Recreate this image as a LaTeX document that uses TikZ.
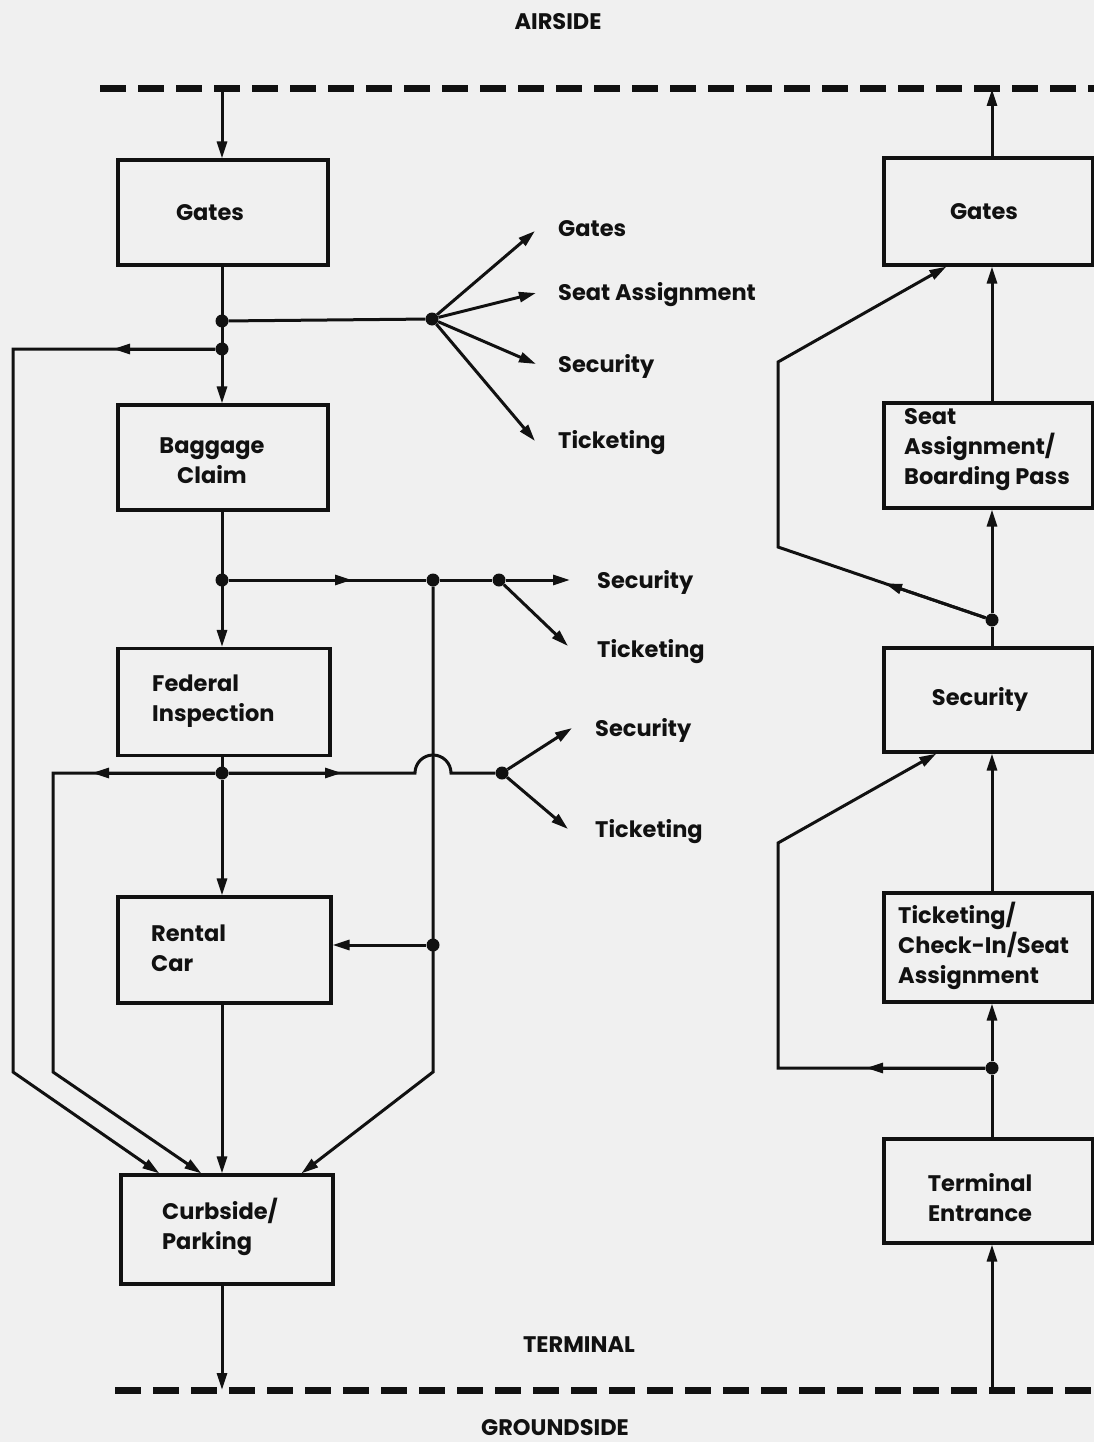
\documentclass[tikz,border=0pt]{standalone}
\usepackage{fontspec}
\setmainfont{Poppins}
\usetikzlibrary{arrows.meta,calc}
\definecolor{bgc}{HTML}{F0F0F0}
\definecolor{ink}{HTML}{111111}
\begin{document}
\begin{tikzpicture}[x=1pt,y=-1pt,
  box/.style={draw=ink, line width=3.2pt, inner sep=0pt},
  ln/.style={draw=ink, line width=3pt, line join=miter},
  arr/.style={ln, -{Triangle[length=17pt,width=10pt]}},
  dot/.style={circle, fill=ink, inner sep=0pt, minimum size=13pt},
  bordline/.style={draw=ink, line width=7pt, dash pattern=on 26pt off 12pt},
  txt/.style={inner sep=0pt, text=ink, font=\fontsize{22.5}{30}\selectfont\bfseries},
]
\fill[bgc] (0,0) rectangle (1094,1442);
\useasboundingbox (0,0) rectangle (1094,1442);

% boundaries
\coordinate (topL) at (100,89);
\coordinate (topR) at (1110,89);
\coordinate (botL) at (115,1390);
\coordinate (botR) at (1110,1390);
\draw[bordline] (topL) -- (topR);
\draw[bordline] (botL) -- (botR);
\node[txt] (airside) at (558,22) {AIRSIDE};
\node[txt] (terminal) at (579,1345) {TERMINAL};
\node[txt] (groundside) at (555,1428) {GROUNDSIDE};

\coordinate (vx) at (222,0);
\coordinate (rx) at (992,0);

% left boxes
\node[box, minimum width=210, minimum height=105] (lgates) at (223,212.5) {};
\node[box, minimum width=210, minimum height=105] (bag) at (223,457.5) {};
\node[box, minimum width=212, minimum height=107] (fed) at (224,702) {};
\node[box, minimum width=213, minimum height=106] (rent) at (224.5,950) {};
\node[box, minimum width=212, minimum height=109] (curb) at (227,1229.5) {};

\node[txt] (tlgates) at (210,213) {Gates};
\node[txt, align=center] (tbag) at (212,461) {Baggage\\Claim};
\node[txt, anchor=west, align=left] (tfed) at (152,701) {Federal\\Inspection};
\node[txt, anchor=west, align=left] (trent) at (151,948) {Rental\\Car};
\node[txt, anchor=west, align=left] (tcurb) at (162,1227) {Curbside/\\Parking};

% right boxes
\node[box, minimum width=209, minimum height=107] (rgates) at (988.5,211.5) {};
\node[box, minimum width=209, minimum height=105] (seat) at (988.5,455.5) {};
\node[box, minimum width=209, minimum height=104] (sec) at (988.5,700) {};
\node[box, minimum width=209, minimum height=109] (tick) at (988.5,947.5) {};
\node[box, minimum width=209, minimum height=104] (term) at (988.5,1191) {};

\node[txt] (trgates) at (984,212) {Gates};
\node[txt, anchor=west, align=left] (tseat) at (904,450) {Seat\\Assignment/\\Boarding Pass};
\node[txt] (tsec) at (980,699) {Security};
\node[txt, anchor=west, align=left] (ttick) at (898,946) {Ticketing/\\Check-In/Seat\\Assignment};
\node[txt, align=center] (tterm) at (980,1198) {Terminal\\Entrance};

% ---- left column connectors
\draw[arr] (topL -| vx) -- (lgates.north -| vx);
\draw[arr] (lgates.south -| vx) -- (bag.north -| vx);
\node[dot] (j1) at (222,321) {};
\node[dot] (j2) at (222,349) {};
\node[dot] (f1) at (432,319) {};
\draw[ln] (j1) -- (f1);
\coordinate (g1) at (535,231);
\coordinate (g2) at (536,293);
\coordinate (g3) at (536,364);
\coordinate (g4) at (535,441);
\draw[arr] (f1) -- (g1);
\draw[arr] (f1) -- (g2);
\draw[arr] (f1) -- (g3);
\draw[arr] (f1) -- (g4);
\node[txt, anchor=west] (lg1) at (558,229) {Gates};
\node[txt, anchor=west] (lg2) at (558,295) {Seat Assignment};
\node[txt, anchor=west] (lg3) at (558,366) {Security};
\node[txt, anchor=west] (lg4) at (558,443) {Ticketing};

% outer left loop
\coordinate (c1) at (13,349);
\coordinate (c2) at (13,1072);
\coordinate (curbA) at ($(curb.north west)+(40,0)$);
\draw[arr] (j2) -- (c1) -- (c2) -- (curbA);
\coordinate (m1) at (113,349);
\draw[arr] (j2) -- (m1);

% 580 line
\draw[arr] (bag.south -| vx) -- (fed.north -| vx);
\node[dot] (j3) at (222,580) {};
\node[dot] (f2) at (433,580) {};
\node[dot] (f3) at (499,580) {};
\draw[ln] (j3) -- (f2) -- (f3);
\coordinate (m2) at (352,580);
\draw[arr] (j3) -- (m2);
\coordinate (s1) at (570,580);
\coordinate (t1) at (568,646);
\draw[arr] (f3) -- (s1);
\draw[arr] (f3) -- (t1);
\node[txt, anchor=west] (ls1) at (597,582) {Security};
\node[txt, anchor=west] (lt1) at (597,652) {Ticketing};

% 773 line
\draw[ln] (fed.south -| vx) -- (222,773);
\node[dot] (j4) at (222,773) {};
\coordinate (c3) at (53,773);
\coordinate (c4) at (53,1072);
\coordinate (curbB) at ($(curb.north west)+(82,0)$);
\draw[arr] (j4) -- (c3) -- (c4) -- (curbB);
\coordinate (m3) at (92,773);
\draw[arr] (j4) -- (m3);
\coordinate (h1) at (415,773);
\node[dot] (f4) at (502,773) {};
\draw[ln] (j4) -- (h1) arc[start angle=180, end angle=360, radius=18] -- (f4);
\coordinate (m4) at (342,773);
\draw[arr] (j4) -- (m4);
\coordinate (s2) at (572,728);
\coordinate (t2) at (568,829);
\draw[arr] (f4) -- (s2);
\draw[arr] (f4) -- (t2);
\node[txt, anchor=west] (ls2) at (595,730) {Security};
\node[txt, anchor=west] (lt2) at (595,832) {Ticketing};
\draw[arr] (j4) -- (rent.north -| vx);

% vertical at 433
\node[dot] (f5) at (433,945) {};
\coordinate (c5) at (433,1072);
\coordinate (curbC) at ($(curb.north west)+(182,0)$);
\draw[arr] (f2) -- (c5) -- (curbC);
\draw[arr] (f5) -- (rent.east |- f5);

\draw[arr] (rent.south -| vx) -- (curb.north -| vx);
\draw[arr] (curb.south -| vx) -- (botL -| vx);

% ---- right column connectors
\draw[arr] (rgates.north -| rx) -- (topR -| rx);
\draw[arr] (seat.north -| rx) -- (rgates.south -| rx);
\node[dot] (r1) at (992,620) {};
\draw[arr] (r1) -- (seat.south -| rx);
\coordinate (c6) at (778,547);
\coordinate (c7) at (778,362);
\coordinate (ga) at ($(rgates.south west)+(64,0)$);
\draw[arr] (r1) -- (c6) -- (c7) -- (ga);
\coordinate (m5) at ($(r1)!0.5!(c6)$);
\draw[arr] (r1) -- (m5);
\draw[ln] (sec.north -| rx) -- (r1);
\draw[arr] (tick.north -| rx) -- (sec.south -| rx);
\node[dot] (r2) at (992,1068) {};
\draw[arr] (r2) -- (tick.south -| rx);
\coordinate (c8) at (778,1068);
\coordinate (c9) at (778,843);
\coordinate (sa) at ($(sec.south west)+(54,0)$);
\draw[arr] (r2) -- (c8) -- (c9) -- (sa);
\coordinate (m6) at (866,1068);
\draw[arr] (r2) -- (m6);
\draw[ln] (term.north -| rx) -- (r2);
\draw[arr] (botR -| rx) -- (term.south -| rx);
\end{tikzpicture}
\end{document}
